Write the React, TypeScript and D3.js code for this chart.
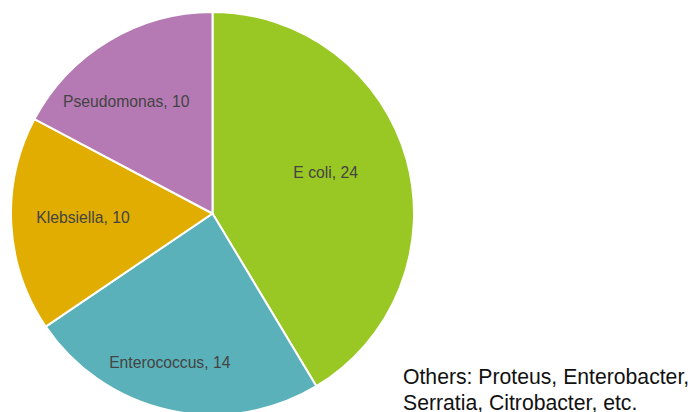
import React from 'react';
import * as d3 from 'd3';

const organisms = ['E coli', 'Enterococcus', 'Klebsiella', 'Pseudomonas'];
const counts = [24, 14, 10, 10];
const sliceColors = ['#99c723', '#5ab1b9', '#e0ad00', '#b57ab3'];
const footnoteLines = ['Others: Proteus, Enterobacter,', 'Serratia, Citrobacter, etc.'];

// label placement tweaks (degrees nudge from slice middle, fraction of radius)
const labelNudge = [-4.4, 3.6, 1.3, -6.5];
const labelRadius = [0.597, 0.769, 0.643, 0.703];

const width = 694;
const height = 412;
const cx = 212.5;
const cy = 213.5;
const radius = 201.5;

const App: React.FC = () => {
  const pie = d3.pie<number>().sort(null).value(d => d);
  const arcs = pie(counts);
  const arc = d3.arc<d3.PieArcDatum<number>>().innerRadius(0).outerRadius(radius);

  return (
    <div style={{ position: 'absolute', left: 0, top: 0 }}>
      <svg width={width} height={height} style={{ display: 'block', background: '#fff' }}>
        <g transform={`translate(${cx},${cy})`}>
          {arcs.map((a, i) => (
            <path key={organisms[i]} d={arc(a) || ''} fill={sliceColors[i]} stroke="#fff" strokeWidth={2} />
          ))}
          {arcs.map((a, i) => {
            const mid = (a.startAngle + a.endAngle) / 2 + (labelNudge[i] * Math.PI) / 180;
            const r = labelRadius[i] * radius;
            const x = r * Math.sin(mid);
            const y = -r * Math.cos(mid);
            return (
              <text
                key={'l' + i}
                x={x}
                y={y}
                dy="0.36em"
                textAnchor="middle"
                fontFamily="Arial, 'Liberation Sans', sans-serif"
                fontSize={15.7}
                fill="#444"
              >
                {`${organisms[i]}, ${counts[i]}`}
              </text>
            );
          })}
        </g>
        <text x={403} fontFamily="Arial, 'Liberation Sans', sans-serif" fontSize={21.2} fill="#111">
          {footnoteLines.map((line, i) => (
            <tspan key={i} x={403} y={384 + i * 25.5}>
              {line}
            </tspan>
          ))}
        </text>
      </svg>
    </div>
  );
};

export default App;
